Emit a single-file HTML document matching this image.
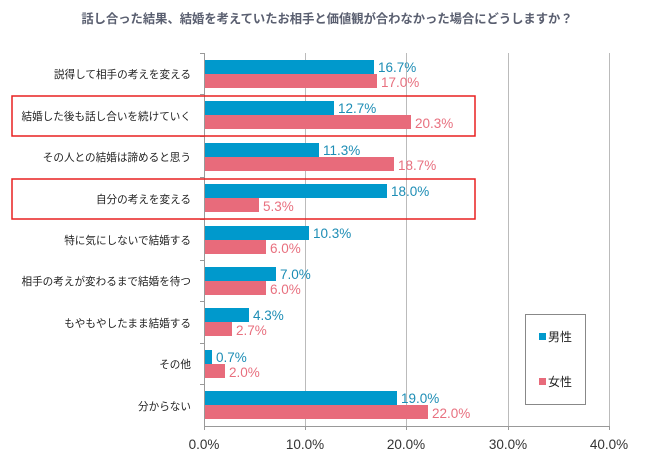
<!DOCTYPE html><html><head><meta charset="utf-8"><style>body{margin:0;background:#fff}</style></head><body>
<svg width="650" height="466" xmlns="http://www.w3.org/2000/svg" font-family="Liberation Sans, Noto Sans CJK JP, sans-serif">
<text x="327" y="23" text-anchor="middle" font-size="12.3" font-weight="bold" fill="#5a5f70">話し合った結果、結婚を考えていたお相手と価値観が合わなかった場合にどうしますか？</text>
<g stroke="#bbb" stroke-width="1">
<line x1="305.5" y1="53" x2="305.5" y2="426"/><line x1="406.5" y1="53" x2="406.5" y2="426"/><line x1="508.5" y1="53" x2="508.5" y2="426"/><line x1="609.5" y1="53" x2="609.5" y2="426"/>
</g>
<g stroke="#999" stroke-width="1">
<line x1="204.5" y1="53" x2="204.5" y2="426"/><line x1="204" y1="426.5" x2="610" y2="426.5"/>
<line x1="200" y1="53.5" x2="204" y2="53.5"/><line x1="200" y1="94.5" x2="204" y2="94.5"/><line x1="200" y1="136.5" x2="204" y2="136.5"/><line x1="200" y1="177.5" x2="204" y2="177.5"/><line x1="200" y1="219.5" x2="204" y2="219.5"/><line x1="200" y1="260.5" x2="204" y2="260.5"/><line x1="200" y1="301.5" x2="204" y2="301.5"/><line x1="200" y1="343.5" x2="204" y2="343.5"/><line x1="200" y1="384.5" x2="204" y2="384.5"/>
<line x1="204.5" y1="426" x2="204.5" y2="430"/><line x1="305.5" y1="426" x2="305.5" y2="430"/><line x1="406.5" y1="426" x2="406.5" y2="430"/><line x1="508.5" y1="426" x2="508.5" y2="430"/><line x1="609.5" y1="426" x2="609.5" y2="430"/>
</g>
<g font-size="10.6" fill="#222" text-anchor="end">
<text x="191" y="78">説得して相手の考えを変える</text>
<text x="191" y="120">結婚した後も話し合いを続けていく</text>
<text x="191" y="161">その人との結婚は諦めると思う</text>
<text x="191" y="203">自分の考えを変える</text>
<text x="191" y="244">特に気にしないで結婚する</text>
<text x="191" y="285">相手の考えが変わるまで結婚を待つ</text>
<text x="191" y="327">もやもやしたまま結婚する</text>
<text x="191" y="368">その他</text>
<text x="191" y="410">分からない</text>
</g>
<g fill="#0099cc">
<rect x="205" y="60" width="169" height="14"/><rect x="205" y="101" width="129" height="14"/><rect x="205" y="143" width="114" height="14"/><rect x="205" y="184" width="182" height="14"/><rect x="205" y="226" width="104" height="14"/><rect x="205" y="267" width="71" height="14"/><rect x="205" y="308" width="44" height="14"/><rect x="205" y="350" width="7" height="14"/><rect x="205" y="391" width="192" height="14"/>
</g>
<g fill="#e86b7b">
<rect x="205" y="74" width="172" height="14"/><rect x="205" y="115" width="206" height="14"/><rect x="205" y="157" width="189" height="14"/><rect x="205" y="198" width="54" height="14"/><rect x="205" y="240" width="61" height="14"/><rect x="205" y="281" width="61" height="14"/><rect x="205" y="322" width="27" height="14"/><rect x="205" y="364" width="20" height="14"/><rect x="205" y="405" width="223" height="14"/>
</g>
<g font-size="13.5" fill="#1d8db5">
<text x="378" y="72">16.7%</text><text x="338" y="113">12.7%</text><text x="323" y="155">11.3%</text><text x="391" y="196">18.0%</text><text x="313" y="238">10.3%</text><text x="280" y="279">7.0%</text><text x="253" y="320">4.3%</text><text x="216" y="362">0.7%</text><text x="401" y="403">19.0%</text>
</g>
<g font-size="13.5" fill="#e8707f">
<text x="381" y="87">17.0%</text><text x="415" y="128">20.3%</text><text x="398" y="170">18.7%</text><text x="263" y="211">5.3%</text><text x="270" y="253">6.0%</text><text x="270" y="294">6.0%</text><text x="236" y="335">2.7%</text><text x="229" y="377">2.0%</text><text x="432" y="418">22.0%</text>
</g>
<g font-size="13.5" fill="#333" text-anchor="middle">
<text x="204" y="449">0.0%</text><text x="305" y="449">10.0%</text><text x="406" y="449">20.0%</text><text x="508" y="449">30.0%</text><text x="609" y="449">40.0%</text>
</g>
<rect x="525.5" y="314.5" width="60" height="90" fill="#fff" stroke="#888"/>
<rect x="539" y="333" width="7" height="7" fill="#0099cc"/><text x="548" y="341" font-size="12" fill="#222">男性</text>
<rect x="539" y="378" width="7" height="7" fill="#e86b7b"/><text x="548" y="386" font-size="12" fill="#222">女性</text>
<rect x="12" y="96" width="463" height="40" fill="none" stroke="#e82020" stroke-width="1.5"/>
<rect x="12" y="179" width="463" height="40" fill="none" stroke="#e82020" stroke-width="1.5"/>
</svg>
</body></html>
